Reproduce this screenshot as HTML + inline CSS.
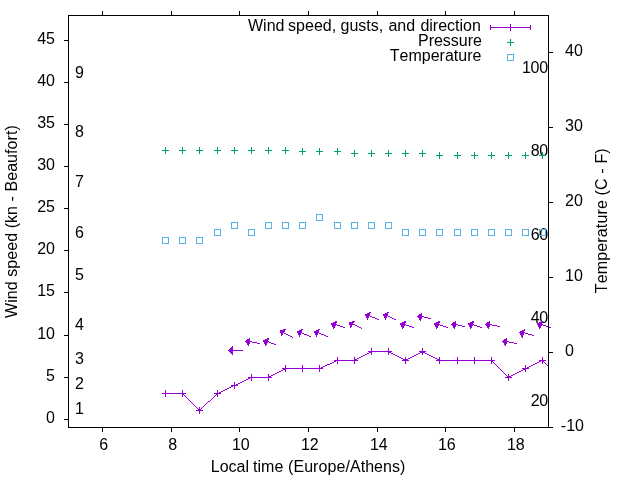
<!DOCTYPE html>
<html><head><meta charset="utf-8"><title>Wind speed, gusts, and direction</title>
<style>html,body{margin:0;padding:0;background:#fff}svg{display:block;will-change:transform}text{font-family:"Liberation Sans",Arial,sans-serif;font-size:16px;fill:#000;font-kerning:none}</style></head><body>
<svg width="640" height="480" viewBox="0 0 640 480">
<rect width="640" height="480" fill="#fff"/>
<text x="55" y="423" text-anchor="end">0</text>
<text x="55" y="381" text-anchor="end">5</text>
<text x="55" y="339" text-anchor="end">10</text>
<text x="55" y="296" text-anchor="end">15</text>
<text x="55" y="254" text-anchor="end">20</text>
<text x="55" y="212" text-anchor="end">25</text>
<text x="55" y="170" text-anchor="end">30</text>
<text x="55" y="128" text-anchor="end">35</text>
<text x="55" y="86" text-anchor="end">40</text>
<text x="55" y="44" text-anchor="end">45</text>
<text x="560.8" y="431">-10</text>
<text x="565" y="356">0</text>
<text x="565" y="281">10</text>
<text x="565" y="206">20</text>
<text x="565" y="131">30</text>
<text x="565" y="56">40</text>
<text x="103.8" y="450" text-anchor="middle">6</text>
<text x="172.8" y="450" text-anchor="middle">8</text>
<text x="240.8" y="450" text-anchor="middle">10</text>
<text x="309.8" y="450" text-anchor="middle">12</text>
<text x="378.8" y="450" text-anchor="middle">14</text>
<text x="446.8" y="450" text-anchor="middle">16</text>
<text x="515.8" y="450" text-anchor="middle">18</text>
<text x="75" y="414">1</text>
<text x="75" y="389">2</text>
<text x="75" y="364">3</text>
<text x="75" y="330">4</text>
<text x="75" y="280">5</text>
<text x="75" y="238">6</text>
<text x="75" y="187">7</text>
<text x="75" y="137">8</text>
<text x="75" y="78">9</text>
<text x="530.7 539.2" y="406">20</text>
<text x="530.7 539.2" y="323">40</text>
<text x="530.7 539.2" y="240">60</text>
<text x="530.7 539.2" y="156">80</text>
<text x="521.9 530.6 539.2" y="73">100</text>
<text y="472"><tspan x="210.76">Local </tspan><tspan x="253.06">time </tspan><tspan x="288.03" textLength="117.4">(Europe/Athens)</tspan></text>
<text transform="translate(16.8,221.6) rotate(-90)" text-anchor="middle" textLength="192.8">Wind speed (kn - Beaufort)</text>
<text transform="translate(606.5,220.8) rotate(-90)" text-anchor="middle" textLength="144.9">Temperature (C - F)</text>
<text y="30.5"><tspan x="248">Wind </tspan><tspan x="288.1">speed, </tspan><tspan x="340.5">gusts, </tspan><tspan x="388.4">and </tspan><tspan x="420.4">direction</tspan></text>
<text x="482" y="45.5" text-anchor="end">Pressure</text>
<text x="481.4" y="60.5" text-anchor="end">Temperature</text>
<g stroke="#9400d3" stroke-width="1" fill="none" shape-rendering="crispEdges">
<path d="M490.5 27.5H530.5M490.5 25V30M530.5 25V30M510.5 24V31"/>
<path d="M371 351h18v1h-18zM422 351h1v1h-1zM369 352h2v1h-2zM389 352h2v1h-2zM420 352h2v1h-2zM423 352h2v1h-2zM367 353h2v1h-2zM391 353h2v1h-2zM418 353h2v1h-2zM425 353h2v1h-2zM365 354h2v1h-2zM393 354h2v1h-2zM416 354h2v1h-2zM427 354h2v1h-2zM363 355h2v1h-2zM395 355h2v1h-2zM414 355h2v1h-2zM429 355h2v1h-2zM361 356h2v1h-2zM397 356h2v1h-2zM412 356h2v1h-2zM431 356h2v1h-2zM359 357h2v1h-2zM399 357h2v1h-2zM410 357h2v1h-2zM433 357h2v1h-2zM357 358h2v1h-2zM401 358h2v1h-2zM408 358h2v1h-2zM435 358h2v1h-2zM355 359h2v1h-2zM403 359h2v1h-2zM406 359h2v1h-2zM437 359h2v1h-2zM336 360h19v1h-19zM405 360h1v1h-1zM439 360h53v1h-53zM541 360h2v1h-2zM334 361h2v1h-2zM492 361h1v1h-1zM539 361h2v1h-2zM543 361h1v1h-1zM332 362h2v1h-2zM493 362h1v1h-1zM537 362h2v1h-2zM544 362h1v1h-1zM330 363h2v1h-2zM494 363h1v1h-1zM535 363h2v1h-2zM545 363h1v1h-1zM327 364h3v1h-3zM495 364h1v1h-1zM533 364h2v1h-2zM546 364h1v1h-1zM325 365h2v1h-2zM496 365h1v1h-1zM531 365h2v1h-2zM547 365h1v1h-1zM323 366h2v1h-2zM497 366h1v1h-1zM529 366h2v1h-2zM548 366h1v1h-1zM321 367h2v1h-2zM498 367h1v1h-1zM527 367h2v1h-2zM285 368h36v1h-36zM499 368h1v1h-1zM525 368h2v1h-2zM283 369h2v1h-2zM500 369h1v1h-1zM523 369h2v1h-2zM281 370h2v1h-2zM501 370h1v1h-1zM521 370h2v1h-2zM279 371h2v1h-2zM502 371h1v1h-1zM519 371h2v1h-2zM277 372h2v1h-2zM503 372h1v1h-1zM517 372h2v1h-2zM275 373h2v1h-2zM504 373h1v1h-1zM515 373h2v1h-2zM273 374h2v1h-2zM505 374h1v1h-1zM513 374h2v1h-2zM271 375h2v1h-2zM506 375h1v1h-1zM511 375h2v1h-2zM269 376h2v1h-2zM507 376h1v1h-1zM509 376h2v1h-2zM250 377h19v1h-19zM508 377h1v1h-1zM248 378h2v1h-2zM246 379h2v1h-2zM244 380h2v1h-2zM242 381h2v1h-2zM240 382h2v1h-2zM238 383h2v1h-2zM236 384h2v1h-2zM233 385h3v1h-3zM231 386h2v1h-2zM229 387h2v1h-2zM227 388h2v1h-2zM225 389h2v1h-2zM223 390h2v1h-2zM221 391h2v1h-2zM219 392h2v1h-2zM165 393h18v1h-18zM217 393h2v1h-2zM183 394h1v1h-1zM216 394h1v1h-1zM184 395h1v1h-1zM215 395h1v1h-1zM185 396h1v1h-1zM214 396h1v1h-1zM186 397h1v1h-1zM213 397h1v1h-1zM187 398h1v1h-1zM212 398h1v1h-1zM188 399h1v1h-1zM211 399h1v1h-1zM189 400h1v1h-1zM210 400h1v1h-1zM190 401h1v1h-1zM208 401h2v1h-2zM191 402h1v1h-1zM207 402h1v1h-1zM192 403h1v1h-1zM206 403h1v1h-1zM193 404h1v1h-1zM205 404h1v1h-1zM194 405h1v1h-1zM204 405h1v1h-1zM195 406h1v1h-1zM203 406h1v1h-1zM196 407h1v1h-1zM202 407h1v1h-1zM197 408h1v1h-1zM201 408h1v1h-1zM198 409h1v1h-1zM200 409h1v1h-1zM199 410h1v1h-1z" fill="#9400d3" stroke="none"/>
<path d="M162.0 393.5H169.0M165.5 390.0V397.0M179.0 393.5H186.0M182.5 390.0V397.0M196.0 410.5H203.0M199.5 407.0V414.0M214.0 393.5H221.0M217.5 390.0V397.0M231.0 385.5H238.0M234.5 382.0V389.0M248.0 377.5H255.0M251.5 374.0V381.0M265.0 377.5H272.0M268.5 374.0V381.0M282.0 368.5H289.0M285.5 365.0V372.0M299.0 368.5H306.0M302.5 365.0V372.0M316.0 368.5H323.0M319.5 365.0V372.0M334.0 360.5H341.0M337.5 357.0V364.0M351.0 360.5H358.0M354.5 357.0V364.0M368.0 351.5H375.0M371.5 348.0V355.0M385.0 351.5H392.0M388.5 348.0V355.0M402.0 360.5H409.0M405.5 357.0V364.0M419.0 351.5H426.0M422.5 348.0V355.0M436.0 360.5H443.0M439.5 357.0V364.0M454.0 360.5H461.0M457.5 357.0V364.0M471.0 360.5H478.0M474.5 357.0V364.0M488.0 360.5H495.0M491.5 357.0V364.0M505.0 377.5H512.0M508.5 374.0V381.0M522.0 368.5H529.0M525.5 365.0V372.0M539.0 360.5H546.0M542.5 357.0V364.0"/>
</g>
<path d="M369 312h2v1h-2zM387 312h2v1h-2zM367 313h3v1h-3zM385 313h3v1h-3zM421 313h1v1h-1zM365 314h5v1h-5zM383 314h5v1h-5zM419 314h3v1h-3zM365 315h5v1h-5zM383 315h5v1h-5zM418 315h4v1h-4zM366 316h3v1h-3zM370 316h2v1h-2zM384 316h3v1h-3zM388 316h2v1h-2zM417 316h7v1h-7zM366 317h3v1h-3zM372 317h3v1h-3zM384 317h3v1h-3zM390 317h2v1h-2zM418 317h4v1h-4zM424 317h4v1h-4zM367 318h1v1h-1zM375 318h2v1h-2zM385 318h1v1h-1zM392 318h2v1h-2zM419 318h3v1h-3zM428 318h3v1h-3zM367 319h1v1h-1zM377 319h2v1h-2zM385 319h1v1h-1zM394 319h2v1h-2zM419 319h2v1h-2zM420 320h1v1h-1zM335 321h2v1h-2zM352 321h3v1h-3zM404 321h2v1h-2zM438 321h2v1h-2zM455 321h1v1h-1zM472 321h2v1h-2zM489 321h1v1h-1zM541 321h2v1h-2zM333 322h4v1h-4zM349 322h5v1h-5zM402 322h4v1h-4zM436 322h4v1h-4zM453 322h3v1h-3zM470 322h4v1h-4zM487 322h3v1h-3zM539 322h4v1h-4zM331 323h5v1h-5zM349 323h4v1h-4zM400 323h5v1h-5zM434 323h5v1h-5zM452 323h4v1h-4zM468 323h5v1h-5zM486 323h4v1h-4zM537 323h5v1h-5zM331 324h6v1h-6zM349 324h6v1h-6zM400 324h6v1h-6zM434 324h6v1h-6zM451 324h7v1h-7zM468 324h6v1h-6zM485 324h7v1h-7zM537 324h6v1h-6zM332 325h4v1h-4zM337 325h3v1h-3zM350 325h2v1h-2zM355 325h2v1h-2zM401 325h4v1h-4zM406 325h3v1h-3zM435 325h4v1h-4zM440 325h3v1h-3zM452 325h4v1h-4zM458 325h4v1h-4zM469 325h4v1h-4zM474 325h3v1h-3zM486 325h4v1h-4zM492 325h5v1h-5zM538 325h4v1h-4zM543 325h3v1h-3zM332 326h3v1h-3zM340 326h3v1h-3zM350 326h2v1h-2zM357 326h2v1h-2zM401 326h3v1h-3zM409 326h3v1h-3zM435 326h3v1h-3zM443 326h3v1h-3zM453 326h3v1h-3zM462 326h3v1h-3zM469 326h3v1h-3zM477 326h3v1h-3zM487 326h3v1h-3zM497 326h3v1h-3zM538 326h3v1h-3zM546 326h3v1h-3zM333 327h2v1h-2zM343 327h2v1h-2zM350 327h1v1h-1zM359 327h2v1h-2zM402 327h2v1h-2zM412 327h2v1h-2zM436 327h2v1h-2zM446 327h2v1h-2zM453 327h2v1h-2zM470 327h2v1h-2zM480 327h2v1h-2zM487 327h2v1h-2zM539 327h2v1h-2zM549 327h2v1h-2zM333 328h1v1h-1zM361 328h1v1h-1zM402 328h1v1h-1zM436 328h1v1h-1zM454 328h1v1h-1zM470 328h1v1h-1zM488 328h1v1h-1zM539 328h1v1h-1zM283 329h3v1h-3zM301 329h2v1h-2zM318 329h2v1h-2zM524 329h1v1h-1zM280 330h5v1h-5zM299 330h3v1h-3zM316 330h3v1h-3zM522 330h3v1h-3zM280 331h5v1h-5zM297 331h5v1h-5zM314 331h5v1h-5zM520 331h4v1h-4zM280 332h4v1h-4zM297 332h5v1h-5zM314 332h5v1h-5zM519 332h6v1h-6zM281 333h2v1h-2zM284 333h2v1h-2zM298 333h3v1h-3zM302 333h2v1h-2zM315 333h3v1h-3zM319 333h2v1h-2zM520 333h4v1h-4zM525 333h3v1h-3zM281 334h2v1h-2zM286 334h2v1h-2zM298 334h3v1h-3zM304 334h3v1h-3zM315 334h3v1h-3zM321 334h3v1h-3zM520 334h4v1h-4zM528 334h4v1h-4zM281 335h1v1h-1zM288 335h2v1h-2zM299 335h1v1h-1zM307 335h2v1h-2zM316 335h1v1h-1zM324 335h2v1h-2zM521 335h2v1h-2zM532 335h2v1h-2zM290 336h2v1h-2zM299 336h1v1h-1zM309 336h2v1h-2zM316 336h1v1h-1zM326 336h2v1h-2zM521 336h2v1h-2zM292 337h1v1h-1zM522 337h1v1h-1zM249 338h1v1h-1zM267 338h2v1h-2zM506 338h1v1h-1zM247 339h3v1h-3zM265 339h4v1h-4zM504 339h3v1h-3zM246 340h4v1h-4zM263 340h5v1h-5zM503 340h4v1h-4zM245 341h7v1h-7zM263 341h6v1h-6zM502 341h7v1h-7zM246 342h4v1h-4zM252 342h5v1h-5zM264 342h4v1h-4zM269 342h2v1h-2zM503 342h4v1h-4zM509 342h5v1h-5zM247 343h3v1h-3zM257 343h3v1h-3zM264 343h3v1h-3zM271 343h3v1h-3zM504 343h3v1h-3zM514 343h3v1h-3zM247 344h2v1h-2zM265 344h2v1h-2zM274 344h2v1h-2zM504 344h2v1h-2zM248 345h1v1h-1zM265 345h1v1h-1zM505 345h1v1h-1zM232 346h1v1h-1zM231 347h2v1h-2zM230 348h3v1h-3zM229 349h4v1h-4zM228 350h15v1h-15zM229 351h4v1h-4zM230 352h3v1h-3zM231 353h2v1h-2zM232 354h1v1h-1z" fill="#9400d3" stroke="none" shape-rendering="crispEdges"/>
<g stroke="#009e73" stroke-width="1" fill="none" shape-rendering="crispEdges">
<path d="M162.0 150.5H169.0M165.5 147.0V154.0M179.0 150.5H186.0M182.5 147.0V154.0M196.0 150.5H203.0M199.5 147.0V154.0M214.0 150.5H221.0M217.5 147.0V154.0M231.0 150.5H238.0M234.5 147.0V154.0M248.0 150.5H255.0M251.5 147.0V154.0M265.0 150.5H272.0M268.5 147.0V154.0M282.0 150.5H289.0M285.5 147.0V154.0M299.0 151.5H306.0M302.5 148.0V155.0M316.0 151.5H323.0M319.5 148.0V155.0M334.0 151.5H341.0M337.5 148.0V155.0M351.0 153.5H358.0M354.5 150.0V157.0M368.0 153.5H375.0M371.5 150.0V157.0M385.0 153.5H392.0M388.5 150.0V157.0M402.0 153.5H409.0M405.5 150.0V157.0M419.0 153.5H426.0M422.5 150.0V157.0M436.0 155.5H443.0M439.5 152.0V159.0M454.0 155.5H461.0M457.5 152.0V159.0M471.0 155.5H478.0M474.5 152.0V159.0M488.0 155.5H495.0M491.5 152.0V159.0M505.0 155.5H512.0M508.5 152.0V159.0M522.0 155.5H529.0M525.5 152.0V159.0M539.0 155.5H546.0M542.5 152.0V159.0M507.0 42.5H514.0M510.5 39.0V46.0"/></g>
<g stroke="#56b4e9" stroke-width="1" fill="none" shape-rendering="crispEdges">
<rect x="162.5" y="237.5" width="6" height="6"/>
<rect x="179.5" y="237.5" width="6" height="6"/>
<rect x="196.5" y="237.5" width="6" height="6"/>
<rect x="214.5" y="229.5" width="6" height="6"/>
<rect x="231.5" y="222.5" width="6" height="6"/>
<rect x="248.5" y="229.5" width="6" height="6"/>
<rect x="265.5" y="222.5" width="6" height="6"/>
<rect x="282.5" y="222.5" width="6" height="6"/>
<rect x="299.5" y="222.5" width="6" height="6"/>
<rect x="316.5" y="214.5" width="6" height="6"/>
<rect x="334.5" y="222.5" width="6" height="6"/>
<rect x="351.5" y="222.5" width="6" height="6"/>
<rect x="368.5" y="222.5" width="6" height="6"/>
<rect x="385.5" y="222.5" width="6" height="6"/>
<rect x="402.5" y="229.5" width="6" height="6"/>
<rect x="419.5" y="229.5" width="6" height="6"/>
<rect x="436.5" y="229.5" width="6" height="6"/>
<rect x="454.5" y="229.5" width="6" height="6"/>
<rect x="471.5" y="229.5" width="6" height="6"/>
<rect x="488.5" y="229.5" width="6" height="6"/>
<rect x="505.5" y="229.5" width="6" height="6"/>
<rect x="522.5" y="229.5" width="6" height="6"/>
<rect x="539.5" y="229.5" width="6" height="6"/>
<rect x="507.5" y="54.5" width="6" height="6"/>
</g>
<g stroke="#000" stroke-width="1" fill="none" shape-rendering="crispEdges">
<rect x="68.5" y="15.5" width="480.0" height="412.0"/>
<line x1="64" y1="419.5" x2="68" y2="419.5"/>
<line x1="64" y1="377.5" x2="68" y2="377.5"/>
<line x1="64" y1="335.5" x2="68" y2="335.5"/>
<line x1="64" y1="292.5" x2="68" y2="292.5"/>
<line x1="64" y1="250.5" x2="68" y2="250.5"/>
<line x1="64" y1="208.5" x2="68" y2="208.5"/>
<line x1="64" y1="166.5" x2="68" y2="166.5"/>
<line x1="64" y1="124.5" x2="68" y2="124.5"/>
<line x1="64" y1="82.5" x2="68" y2="82.5"/>
<line x1="64" y1="40.5" x2="68" y2="40.5"/>
<line x1="549" y1="427.5" x2="553" y2="427.5"/>
<line x1="549" y1="352.5" x2="553" y2="352.5"/>
<line x1="549" y1="277.5" x2="553" y2="277.5"/>
<line x1="549" y1="202.5" x2="553" y2="202.5"/>
<line x1="549" y1="127.5" x2="553" y2="127.5"/>
<line x1="549" y1="52.5" x2="553" y2="52.5"/>
<line x1="102.5" y1="428" x2="102.5" y2="432"/>
<line x1="102.5" y1="11" x2="102.5" y2="15"/>
<line x1="171.5" y1="428" x2="171.5" y2="432"/>
<line x1="171.5" y1="11" x2="171.5" y2="15"/>
<line x1="239.5" y1="428" x2="239.5" y2="432"/>
<line x1="239.5" y1="11" x2="239.5" y2="15"/>
<line x1="308.5" y1="428" x2="308.5" y2="432"/>
<line x1="308.5" y1="11" x2="308.5" y2="15"/>
<line x1="377.5" y1="428" x2="377.5" y2="432"/>
<line x1="377.5" y1="11" x2="377.5" y2="15"/>
<line x1="445.5" y1="428" x2="445.5" y2="432"/>
<line x1="445.5" y1="11" x2="445.5" y2="15"/>
<line x1="514.5" y1="428" x2="514.5" y2="432"/>
<line x1="514.5" y1="11" x2="514.5" y2="15"/>
</g>
</svg></body></html>
